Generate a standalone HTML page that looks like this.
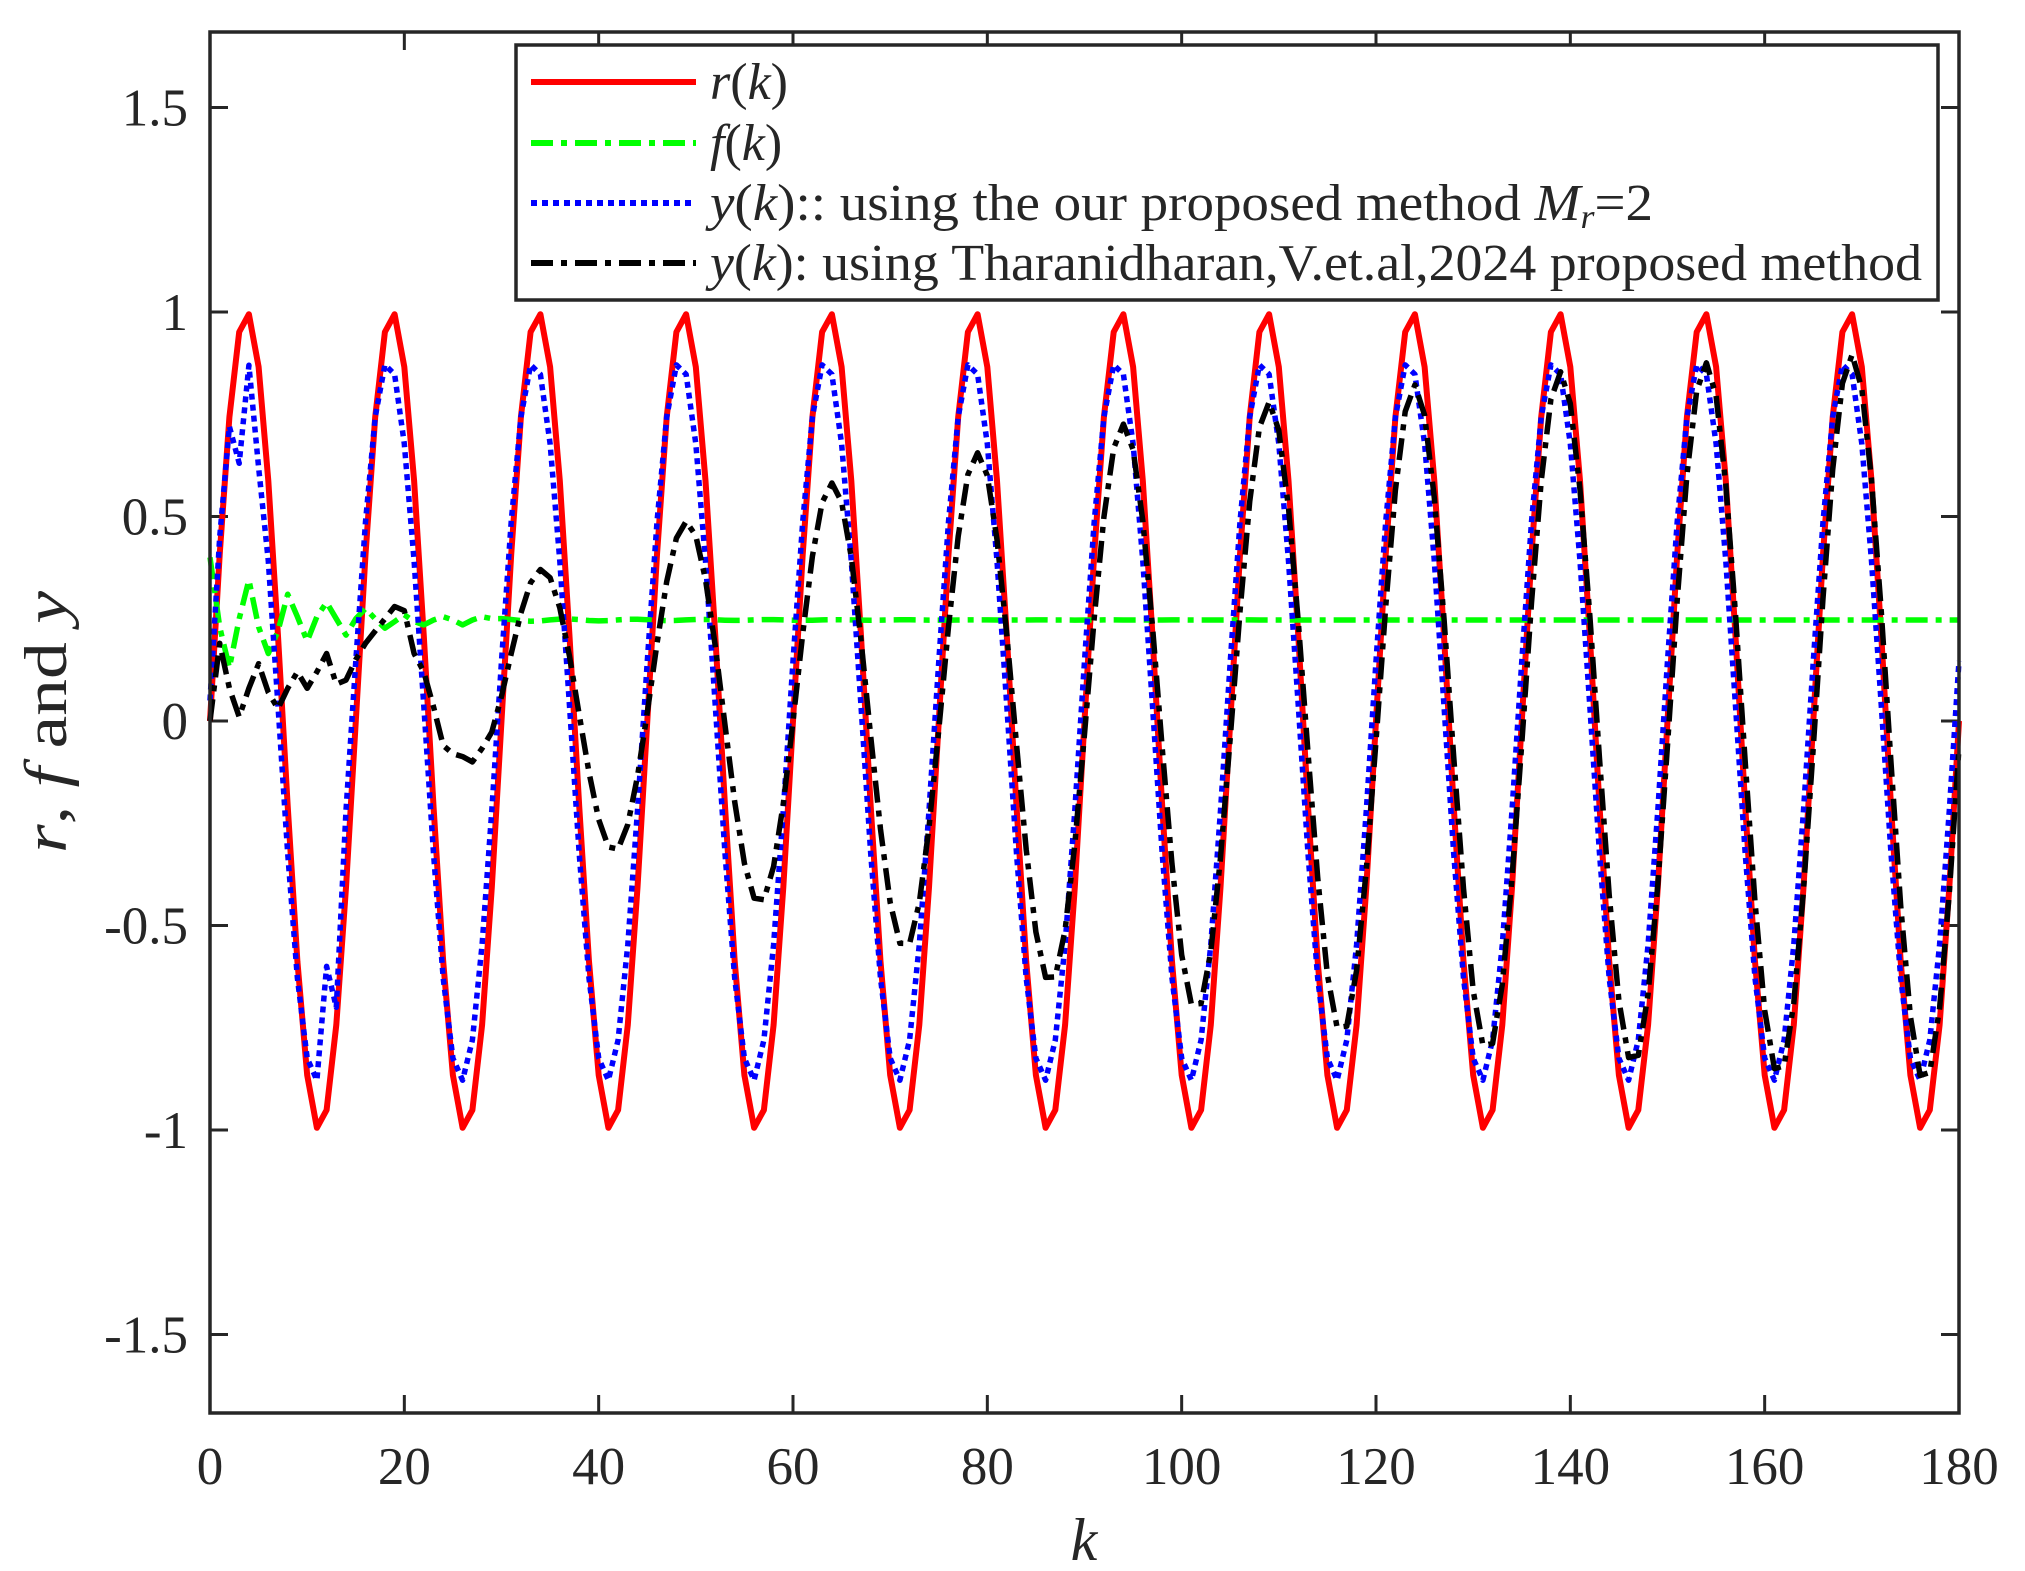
<!DOCTYPE html>
<html><head><meta charset="utf-8"><style>
html,body{margin:0;padding:0;background:#fff;}
svg{display:block;}
text{font-family:"Liberation Serif",serif;fill:#262626;}
</style></head><body>
<svg id="s" width="2025" height="1571" viewBox="0 0 2025 1571" xmlns="http://www.w3.org/2000/svg">
<rect width="2025" height="1571" fill="#fff"/>
<g id="ticks" stroke="#262626" stroke-width="3"></g>
<g id="series" fill="none" stroke-linejoin="round"></g>
<rect x="210" y="32" width="1749" height="1381" fill="none" stroke="#262626" stroke-width="3.5"/>
<g id="labels" font-size="53"></g>
<text x="1084" y="1560" font-size="60" font-style="italic" text-anchor="middle">k</text>
<text transform="translate(66,722) rotate(-90)" font-size="60" text-anchor="middle" textLength="262" lengthAdjust="spacingAndGlyphs"><tspan font-style="italic">r</tspan>, <tspan font-style="italic">f</tspan> and <tspan font-style="italic">y</tspan></text>
<rect x="516" y="45" width="1422" height="255" fill="#fff" stroke="#262626" stroke-width="3.5"/>
<g font-size="52" fill="#000">
<line x1="531" y1="82" x2="696" y2="82" stroke="#ff0000" stroke-width="6"/>
<text x="710" y="99" fill="#000"><tspan font-style="italic">r</tspan>(<tspan font-style="italic">k</tspan>)</text>
<line x1="531" y1="143" x2="696" y2="143" stroke="#00ff00" stroke-width="6" stroke-dasharray="22,8,6,8"/>
<text x="710" y="160" fill="#000"><tspan font-style="italic">f</tspan>(<tspan font-style="italic">k</tspan>)</text>
<line x1="531" y1="203" x2="696" y2="203" stroke="#0000ff" stroke-width="6" stroke-dasharray="6,5"/>
<text x="710" y="220" fill="#000" textLength="943" lengthAdjust="spacingAndGlyphs"><tspan font-style="italic">y</tspan>(<tspan font-style="italic">k</tspan>):: using the our proposed method <tspan font-style="italic">M</tspan><tspan font-size="34" font-style="italic" dy="8">r</tspan><tspan dy="-8">=2</tspan></text>
<line x1="531" y1="263" x2="696" y2="263" stroke="#000" stroke-width="6" stroke-dasharray="22,8,6,8"/>
<text x="710" y="280" fill="#000" textLength="1212" lengthAdjust="spacingAndGlyphs"><tspan font-style="italic">y</tspan>(<tspan font-style="italic">k</tspan>): using Tharanidharan,V.et.al,2024 proposed method</text>
</g>
</svg>
<script>
(function(){
var NS="http://www.w3.org/2000/svg";
var X0=210,XS=1749/180,Y0=721,YS=409;
function px(k){return X0+k*XS;}
function py(v){return Y0-v*YS;}
var tg=document.getElementById('ticks'),lg=document.getElementById('labels'),sg=document.getElementById('series');
function el(p,tag,a,txt){var e=document.createElementNS(NS,tag);for(var k in a)e.setAttribute(k,a[k]);if(txt!==undefined)e.textContent=txt;p.appendChild(e);return e;}
for(var k=0;k<=180;k+=20){var x=px(k);
 el(tg,'line',{x1:x,y1:1413,x2:x,y2:1395});el(tg,'line',{x1:x,y1:32,x2:x,y2:50});
 el(lg,'text',{x:x,y:1484,'text-anchor':'middle'},String(k));}
var yv=[-1.5,-1,-0.5,0,0.5,1,1.5];
yv.forEach(function(v){var y=py(v);
 el(tg,'line',{x1:210,y1:y,x2:228,y2:y});el(tg,'line',{x1:1959,y1:y,x2:1941,y2:y});
 el(lg,'text',{x:188,y:y+18,'text-anchor':'end'},String(v));});
function interp(tab,k){for(var i=0;i<tab.length-1;i++){if(k<=tab[i+1][0]){var a=tab[i],b=tab[i+1];return a[1]+(b[1]-a[1])*(k-a[0])/(b[0]-a[0]);}}return tab[tab.length-1][1];}
var R=[],F=[],B=[],K=[];
var fe=[.40,.23,.13,.25,.345,.23,.165,.22,.31,.255,.195,.255,.29,.25,.21,.25,.275,.25,.227,.243,.26,.243,.235,.247,.255,.247,.235,.247,.255];
var be=[.05,.45,.72,.63,.87,.62];
var ke=[0,.19,.08,.01,.08,.14,.07,.03,.08,.12,.08,.12,.165,.09,.10,.15,.19,.22,.25,.28,.27,.165,.12,.035,-.06,-.08,-.087,-.10,-.067];
var amp=[[27,.19],[30,.25],[37,.34],[52,.46],[67,.565],[82,.645],[97,.715],[112,.77],[127,.815],[142,.845],[157,.87],[172,.89],[180,.895]];
var cen=[[27,.09],[37,.06],[52,.05],[67,.035],[82,.025],[97,.025],[112,.02],[127,.015],[142,.015],[157,.01],[180,.01]];
for(var k=0;k<=180;k++){
 R.push(Math.sin(2*Math.PI*k/15));
 F.push(k<fe.length?fe[k]:0.247+0.004*Math.sin(k*0.9)*Math.exp(-(k-28)/20));
 var b=0.88*Math.sin(2*Math.PI*(k+0.4)/15);
 if(k<be.length)b=be[k];if(k==12)b=-0.60;if(k==13)b=-0.70;
 B.push(b);
 K.push(k<ke.length?ke[k]:interp(cen,k)+interp(amp,k)*Math.sin(2*Math.PI*(k-0.2)/15));
}
function path(arr,color,w,dash){var d='';arr.forEach(function(v,k){d+=(k?'L':'M')+px(k).toFixed(1)+' '+py(v).toFixed(1);});
 var a={d:d,stroke:color,'stroke-width':w};if(dash)a['stroke-dasharray']=dash;el(sg,'path',a);}
path(R,'#ff0000',6);
path(F,'#00ff00',5.5,'22,8,6,8');
path(B,'#0000ff',5.5,'6,5');
path(K,'#000000',5.5,'22,8,6,8');
})();
</script>
</body></html>
